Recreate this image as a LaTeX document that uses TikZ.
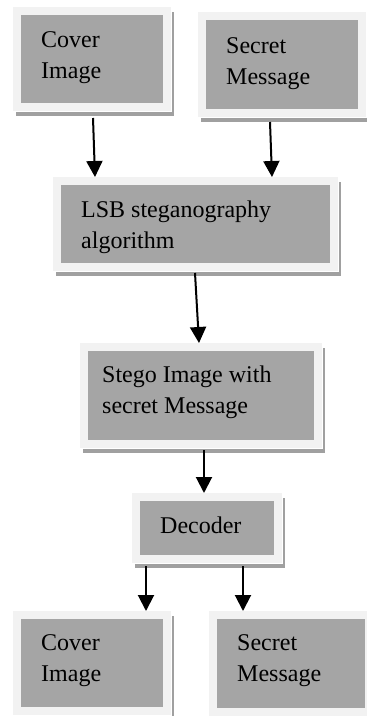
\documentclass[tikz,border=0pt]{standalone}
\usepackage{fontspec}
\setmainfont{Liberation Serif}
\usetikzlibrary{arrows.meta}

\definecolor{boxgray}{HTML}{A5A5A5}
\definecolor{rimgray}{HTML}{F2F2F2}
\definecolor{shadegray}{HTML}{A0A0A0}

\tikzset{
  % gray panel with a light rim and a shadow offset to the lower right
  panel/.style={
    rectangle, inner sep=0pt, fill=boxgray, draw=rimgray, line width=8pt,
    preaction={draw=shadegray, fill=shadegray, line width=8pt,
               transform canvas={xshift=3pt, yshift=-5pt}},
    preaction={draw=white, line width=10pt}
  },
  caption/.style={anchor=base west, inner sep=0pt, font=\fontsize{24}{31}\selectfont},
  flow/.style={draw=black, line width=2pt, -{Triangle[width=16pt,length=16pt]}}
}

\newcommand{\twolines}[2]{\begin{tabular}[t]{@{}l@{}}#1\\#2\end{tabular}}

\begin{document}
\begin{tikzpicture}[x=1pt, y=-1pt]
  \useasboundingbox (0,0) rectangle (367,716);

  % panels
  \node[panel, minimum width=150pt, minimum height=96pt] (cover1)  at (92,59)     {};
  \node[panel, minimum width=160pt, minimum height=97pt] (secret1) at (282,64.5)  {};
  \node[panel, minimum width=277pt, minimum height=86pt] (lsb)     at (195.5,224) {};
  \node[panel, minimum width=234pt, minimum height=97pt] (stego)   at (201,395.5) {};
  \node[panel, minimum width=142pt, minimum height=62pt] (decoder) at (207,528)   {};
  \node[panel, minimum width=150pt, minimum height=96pt] (cover2)  at (92,663)    {};
  \node[panel, minimum width=156pt, minimum height=97pt] (secret2) at (291,663.5) {};

  % captions
  \node[caption] (tcover1)  at (41,47)  {\twolines{Cover}{Image}};
  \node[caption] (tsecret1) at (226,53) {\twolines{Secret}{Message}};
  \node[caption] (tlsb)     at (81,217) {\twolines{LSB steganography}{algorithm}};
  \node[caption] (tstego)   at (102,382) {\twolines{Stego Image with}{secret Message}};
  \node[caption] (tdecoder) at (160,533) {Decoder};
  \node[caption] (tcover2)  at (41,650) {\twolines{Cover}{Image}};
  \node[caption] (tsecret2) at (237,650) {\twolines{Secret}{Message}};

  % connectors
  \draw[flow] ([shift={(1,7)}]cover1.south)   -- ([xshift=-100.5pt]lsb.north);
  \draw[flow] ([shift={(-12,5)}]secret1.south) -- ([xshift=76.5pt]lsb.north);
  \draw[flow] ([shift={(-0.5,2)}]lsb.south)   -- ([xshift=-2pt]stego.north);
  \draw[flow] ([shift={(3,2)}]stego.south)    -- ([xshift=-3pt]decoder.north);
  \draw[flow] ([shift={(-61,3)}]decoder.south) -- ([xshift=54pt]cover2.north);
  \draw[flow] ([shift={(36,3)}]decoder.south)  -- ([xshift=-48pt]secret2.north);
\end{tikzpicture}
\end{document}
